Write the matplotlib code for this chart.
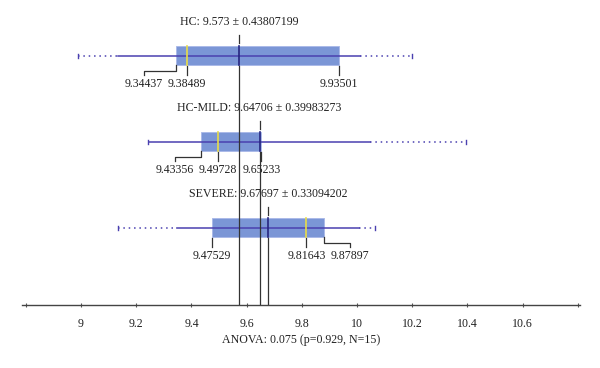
import numpy as np
import matplotlib
matplotlib.use("Agg")
from matplotlib import pyplot as plt

plt.rcParams['font.family'] = ['Liberation Serif', 'DejaVu Serif']

groups = ['HC', 'HC-MILD', 'SEVERE']
means = [9.573, 9.64706, 9.67697]
sds = [0.43807199, 0.39983273, 0.33094202]
q1 = [9.34437, 9.43356, 9.47529]
medians = [9.38489, 9.49728, 9.81643]
q3 = [9.93501, 9.65233, 9.87897]
mins = [8.99, 9.243, 9.135]
maxs = [10.20, 10.394, 10.065]
anova_text = 'ANOVA: 0.075 (p=0.929, N=15)'

box_color = '#7b96d6'
whisk_color = '#4a40b0'
median_color = '#e8dc48'
line_color = '#333333'

fig = plt.figure(figsize=(6, 3.68), dpi=100)
ax = fig.add_axes([22 / 600, 63 / 368, 558 / 600, 305 / 368])
ax.set_xlim(8.786, 10.808)
ax.set_ylim(305, 0)

box_tops = [46, 132, 218]
box_h = 19
gap = 0.158  # min distance between value labels

for i, name in enumerate(groups):
    top = box_tops[i]
    bot = top + box_h
    yc = top + box_h / 2
    m, s = means[i], sds[i]

    # box
    ax.fill_between([q1[i], q3[i]], top, bot, color=box_color, lw=0.6,
                    edgecolor='#a8b8e8', zorder=2)
    # whiskers: solid = mean +- sd, dotted = out to min / max
    lo = max(mins[i], m - s)
    hi = min(maxs[i], m + s)
    ax.plot([lo, hi], [yc, yc], color=whisk_color, lw=1.1, zorder=3)
    if mins[i] < lo:
        ax.plot([mins[i], lo], [yc, yc], color=whisk_color, lw=1.1, ls=(0, (1, 2.5)), zorder=3)
    if maxs[i] > hi:
        ax.plot([hi, maxs[i]], [yc, yc], color=whisk_color, lw=1.1, ls=(0, (1, 2.5)), zorder=3)
    for v in (mins[i], maxs[i]):
        ax.plot([v, v], [yc - 2, yc + 2], color=whisk_color, lw=1, zorder=3)

    # median and mean inside box
    ax.plot([medians[i]] * 2, [top, bot], color=median_color, lw=1.2, zorder=4)
    ax.plot([m, m], [top, bot], color='#262680', lw=1.2, zorder=4)

    # mean marker above, line down to axis
    ax.plot([m, m], [top - 11, top - 3], color=line_color, lw=0.9, zorder=5)
    ax.plot([m, m], [bot + 1, 305], color=line_color, lw=0.9, zorder=5)

    ax.text(m, top - 24, f'{name}: {m:g} \u00b1 {s:.8f}', ha='center', va='center',
            fontsize=8.6, color='#222222', zorder=6)

    # value labels under the box
    lab_q1 = min(q1[i], medians[i] - gap)
    lab_q3 = max(q3[i], medians[i] + gap)
    for v, lx in ((q1[i], lab_q1), (medians[i], medians[i]), (q3[i], lab_q3)):
        if abs(lx - v) > 0.01:
            ax.plot([v, v, lx, lx], [bot, bot + 6, bot + 6, bot + 10], color=line_color, lw=0.9)
        else:
            ax.plot([v, v], [bot + 1, bot + 10], color=line_color, lw=0.9)
        ax.text(lx, bot + 19, f'{v:.5f}', ha='center', va='center', fontsize=8.6, color='#222222')

for sp in ('left', 'top', 'right'):
    ax.spines[sp].set_visible(False)
ax.spines['bottom'].set_color('#444444')
ax.spines['bottom'].set_linewidth(1.0)
ax.set_yticks([])
ticks = np.round(np.arange(8.8, 10.81, 0.2), 1)
ax.set_xticks(ticks)
ax.set_xticklabels(['' if t in (8.8, 10.8) else f'{t:g}' for t in ticks], fontsize=8.6)
ax.tick_params(axis='x', direction='inout', length=3, width=0.8, colors='#555555',
               labelcolor='#222222', pad=8)
ax.set_xlabel(anova_text, fontsize=8.6, color='#222222', labelpad=3)

fig.savefig('out.png', dpi=100)
